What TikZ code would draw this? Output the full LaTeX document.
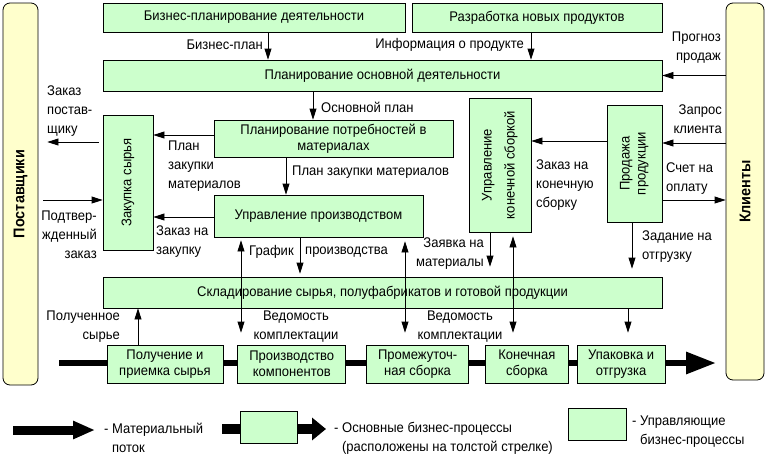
\documentclass[tikz,border=0pt]{standalone}
\usepackage{fontspec}
\setmainfont{Liberation Sans}[FakeStretch=0.93]
\usepackage{graphicx}
\usetikzlibrary{positioning,arrows.meta}

\definecolor{procgreen}{RGB}{204,255,204}
\definecolor{sideyellow}{RGB}{255,255,204}

\begin{document}
\begin{tikzpicture}[x=1pt,y=-1pt,
    proc/.style={draw,fill=procgreen,line width=0.8pt,align=center,inner sep=1pt,
        font=\fontsize{14}{16}\selectfont},
    side/.style={draw,fill=sideyellow,line width=0.8pt,rounded corners=7pt,
        font=\fontsize{15.5}{17}\selectfont\bfseries},
    lbl/.style={inner sep=0pt,font=\fontsize{14}{19}\selectfont},
    flow/.style={line width=0.8pt,-{Triangle[length=11pt,width=7pt]}},
    both/.style={line width=0.8pt,{Triangle[length=11pt,width=7pt]}-{Triangle[length=11pt,width=7pt]}}]

\useasboundingbox (0,0) rectangle (766,456);

% Material flow (behind the boxes)
\coordinate (flow_start) at (59,363);
\coordinate (flow_end) at (716,363);
\draw[line width=6pt,-{Triangle[length=30pt,width=21pt]}] (flow_start) -- (flow_end);

% Partners
\node[  side,
        minimum width=35pt, minimum height=382pt
    ] (suppliers) at (20.5,194) {\rotatebox{90}{Поставщики}};
\node[  side,
        minimum width=38pt, minimum height=377pt
    ] (clients) at (745,191.5) {\rotatebox{90}{Клиенты}};

% Control processes
\node[  proc,
        minimum width=302pt, minimum height=29pt
    ] (proc_bizplan) at (254,17.5) {Бизнес-планирование деятельности};
\node[  proc,
        minimum width=250pt, minimum height=29pt
    ] (proc_newprod) at (537,17.5) {Разработка новых продуктов};
\node[  proc,
        minimum width=559pt, minimum height=31pt
    ] (proc_mainplan) at (382.5,75.5) {Планирование основной деятельности};
\node[  proc,
        minimum width=50pt, minimum height=135pt
    ] (proc_purchase) at (128,182.5) {\rotatebox{90}{Закупка сырья}};
\node[  proc,
        minimum width=239pt, minimum height=37pt
    ] (proc_mrp) at (333.5,138.5) {Планирование потребностей в\\материалах};
\node[  proc,
        minimum width=209pt, minimum height=42pt
    ] (proc_prodctl) at (318.5,216) {Управление производством};
\node[  proc,
        minimum width=62pt, minimum height=134pt
    ] (proc_finalctl) at (500,165)
    {\rotatebox{90}{\begin{tabular}{@{}c@{}}Управление\\[7pt]конечной сборкой\end{tabular}}};
\node[  proc,
        minimum width=55pt, minimum height=117pt
    ] (proc_sales) at (634.5,163.5)
    {\rotatebox{90}{\begin{tabular}{@{}c@{}}Продажа\\продукции\end{tabular}}};
\node[  proc,
        minimum width=559pt, minimum height=31pt
    ] (proc_storage) at (382.5,292.5) {Складирование сырья, полуфабрикатов и готовой продукции};

% Main processes
\node[  proc,
        minimum width=116pt, minimum height=38pt
    ] (proc_receive) at (165,364) {Получение и\\приемка сырья};
\node[  proc,
        minimum width=108pt, minimum height=38pt,
        right=14pt of proc_receive
    ] (proc_components) {Производство\\компонентов};
\node[  proc,
        minimum width=102pt, minimum height=38pt,
        right=20pt of proc_components
    ] (proc_midasm) {Промежуточ-\\ная сборка};
\node[  proc,
        minimum width=83pt, minimum height=38pt,
        right=16pt of proc_midasm
    ] (proc_finalasm) {Конечная\\сборка};
\node[  proc,
        minimum width=88pt, minimum height=38pt,
        right=8pt of proc_finalasm
    ] (proc_pack) {Упаковка и\\отгрузка};

% Labels
\node[lbl, anchor=east] (lbl_bizplan) at (263,45) {Бизнес-план};
\node[lbl, anchor=east] (lbl_product) at (524,45) {Информация о продукте};
\node[lbl, align=right, anchor=east] (lbl_forecast) at (721,48) {Прогноз\\продаж};
\node[lbl, align=left, anchor=west] (lbl_supporder) at (47,111) {Заказ\\постав-\\щику};
\node[lbl, anchor=west] (lbl_mainplan) at (321,107) {Основной план};
\node[lbl, align=left, anchor=west] (lbl_plan) at (168,166) {План\\закупки\\материалов};
\node[lbl, anchor=west] (lbl_mrp) at (292,172) {План закупки материалов};
\node[lbl, align=right, anchor=east] (lbl_confirm) at (97,235) {Подтвер-\\жденный\\заказ};
\node[lbl, align=left, anchor=west] (lbl_buy) at (156,242) {Заказ на\\закупку};
\node[lbl, anchor=west] (lbl_sched_a) at (249,252) {График};
\node[lbl, anchor=west] (lbl_sched_b) at (305,252) {производства};
\node[lbl, align=right, anchor=east] (lbl_request) at (484,254) {Заявка на\\материалы};
\node[lbl, align=left, anchor=west] (lbl_finord) at (536,185) {Заказ на\\конечную\\сборку};
\node[lbl, align=right, anchor=east] (lbl_query) at (722,119) {Запрос\\клиента};
\node[lbl, align=left, anchor=west] (lbl_bill) at (666,179) {Счет на\\оплату};
\node[lbl, align=left, anchor=west] (lbl_ship) at (642,247) {Задание на\\отгрузку};
\node[lbl, align=right, anchor=east] (lbl_raw) at (120,327) {Полученное\\сырье};
\node[lbl, align=center] (lbl_kit_a) at (296,327) {Ведомость\\комплектации};
\node[lbl, align=center] (lbl_kit_b) at (460,327) {Ведомость\\комплектации};

% Columns and rows of the thin arrows
\coordinate (col_bizplan) at (268,0);
\coordinate (col_product) at (531,0);
\coordinate (col_mainplan) at (313,0);
\coordinate (col_mrp) at (286,0);
\coordinate (col_sched) at (300,0);
\coordinate (col_kit_a) at (241,0);
\coordinate (col_kit_b) at (405,0);
\coordinate (col_final) at (513,0);
\coordinate (col_request) at (490,0);
\coordinate (col_ship) at (632,0);
\coordinate (col_pack) at (628,0);
\coordinate (col_raw) at (138,0);
\coordinate (row_plan) at (0,135);
\coordinate (row_buy) at (0,217);
\coordinate (row_supporder) at (0,142);
\coordinate (row_confirm) at (0,200);
\coordinate (row_finord) at (0,141);
\coordinate (row_query) at (0,143);
\coordinate (row_bill) at (0,200);

% Arrows
\draw
    (proc_bizplan.south -| col_bizplan) edge[flow] (proc_mainplan.north -| col_bizplan)
    (proc_newprod.south -| col_product) edge[flow] (proc_mainplan.north -| col_product)
    (clients.west |- proc_mainplan.east) edge[flow] (proc_mainplan.east)
    (proc_mainplan.south -| col_mainplan) edge[flow] (proc_mrp.north -| col_mainplan)
    (proc_mrp.west |- row_plan) edge[flow] (proc_purchase.east |- row_plan)
    (proc_prodctl.west |- row_buy) edge[flow] (proc_purchase.east |- row_buy)
    (proc_purchase.west |- row_supporder) edge[flow, shorten <=4pt, shorten >=9pt] (suppliers.east |- row_supporder)
    (suppliers.east |- row_confirm) edge[flow, shorten <=5pt] (proc_purchase.west |- row_confirm)
    (proc_mrp.south -| col_mrp) edge[flow] (proc_prodctl.north -| col_mrp)
    (proc_prodctl.south -| col_sched) edge[flow, shorten >=3pt] (proc_storage.north -| col_sched)
    (proc_prodctl.south -| col_kit_a) edge[both, shorten <=3pt, shorten >=12pt] (proc_components.north -| col_kit_a)
    (proc_prodctl.south -| col_kit_b) edge[both, shorten <=4pt, shorten >=12pt] (proc_midasm.north -| col_kit_b)
    (proc_finalctl.south -| col_final) edge[both, shorten <=4pt, shorten >=12pt] (proc_finalasm.north -| col_final)
    (proc_finalctl.south -| col_request) edge[flow, shorten >=10pt] (proc_storage.north -| col_request)
    (proc_sales.south -| col_ship) edge[flow, shorten >=8pt] (proc_storage.north -| col_ship)
    (proc_storage.south -| col_pack) edge[flow, shorten >=12pt] (proc_pack.north -| col_pack)
    (proc_receive.north -| col_raw) edge[flow] (proc_storage.south -| col_raw)
    (proc_sales.west |- row_finord) edge[flow] (proc_finalctl.east |- row_finord)
    (clients.west |- row_query) edge[flow] (proc_sales.east |- row_query)
    (proc_sales.east |- row_bill) edge[flow] (clients.west |- row_bill);

% Legend
\coordinate (leg_flow_start) at (13,430);
\coordinate (leg_flow_end) at (95,430);
\draw[line width=9pt,-{Triangle[length=22pt,width=17pt]}] (leg_flow_start) -- (leg_flow_end);
\node[lbl, align=left, anchor=west] (leg_flow_txt) at (104,438) {- Материальный\\\hphantom{- }поток};

\coordinate (leg_main_start) at (222,429);
\coordinate (leg_main_end) at (326,429);
\draw[line width=10pt,-{Triangle[length=14pt,width=22pt]}] (leg_main_start) -- (leg_main_end);
\node[  proc,
        minimum width=57pt, minimum height=32pt
    ] (leg_main) at (268.5,427) {};
\node[lbl, align=left, anchor=west] (leg_main_txt) at (334,438)
    {- Основные бизнес-процессы\\\hphantom{- }(расположены на толстой стрелке)};

\node[  proc,
        minimum width=58pt, minimum height=32pt
    ] (leg_ctl) at (597,424) {};
\node[lbl, align=left, anchor=west] (leg_ctl_txt) at (632,432) {- Управляющие\\\hphantom{- }бизнес-процессы};
\end{tikzpicture}
\end{document}
